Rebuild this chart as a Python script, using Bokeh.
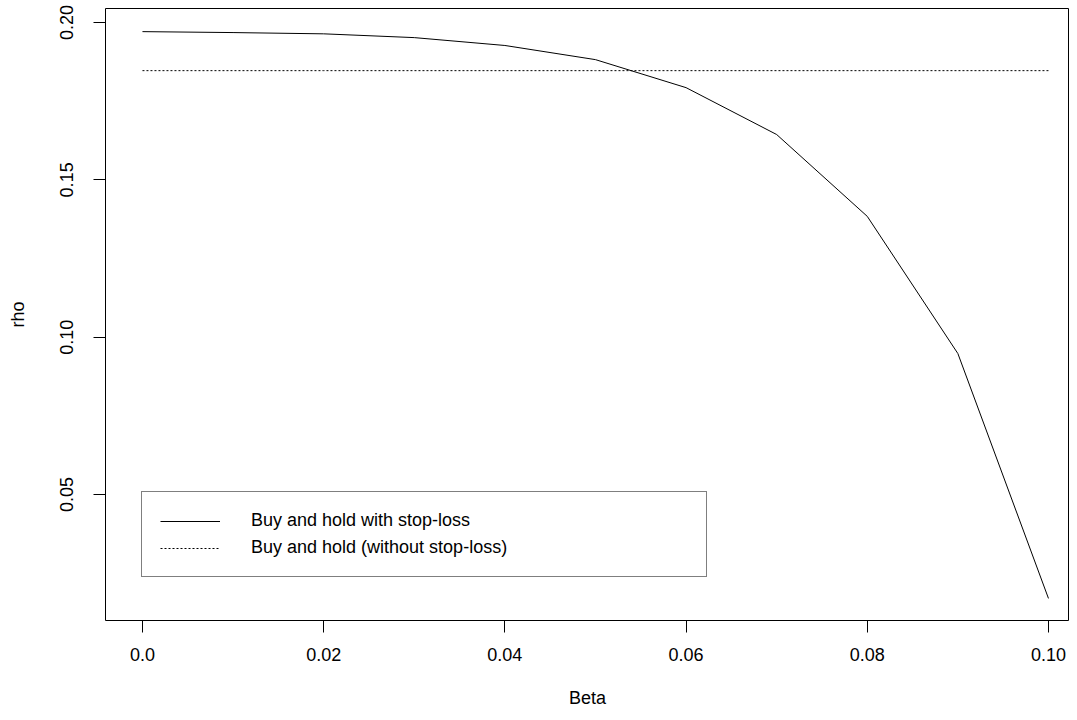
from bokeh.plotting import figure
from bokeh.models import FixedTicker, Legend, LegendItem, ColumnDataSource
from bokeh.embed import file_html
from bokeh.resources import INLINE

# Data
beta = [0.00, 0.01, 0.02, 0.03, 0.04, 0.05, 0.06, 0.07, 0.08, 0.09, 0.10]
rho_stop_loss = [0.1971, 0.1968, 0.1964, 0.1952, 0.1927, 0.1882, 0.1793, 0.1644, 0.1384, 0.0948, 0.0170]
rho_no_stop_loss = [0.1847] * len(beta)

x_ticks = [0.0, 0.02, 0.04, 0.06, 0.08, 0.10]
x_tick_labels = ["0.0", "0.02", "0.04", "0.06", "0.08", "0.10"]
y_ticks = [0.05, 0.10, 0.15, 0.20]
y_tick_labels = ["0.05", "0.10", "0.15", "0.20"]

label_stop = "Buy and hold with stop-loss"
label_nostop = "Buy and hold (without stop-loss)"

FONT = "Liberation Sans"
FS = "18px"

p = figure(width=1069, height=712, output_backend="svg", toolbar_location=None,
           x_range=(-0.00408, 0.10232), y_range=(0.00998, 0.20445),
           min_border_left=105, min_border_right=0, min_border_top=8, min_border_bottom=92)

p.background_fill_color = "white"
p.border_fill_color = "white"
p.outline_line_color = "black"
p.outline_line_width = 1
p.xgrid.visible = False
p.ygrid.visible = False

src = ColumnDataSource(dict(beta=beta, s=rho_stop_loss, n=rho_no_stop_loss))
r1 = p.line("beta", "s", source=src, line_color="black", line_width=1)
r2 = p.line("beta", "n", source=src, line_color="black", line_width=1, line_dash="2 2")

for ax in (p.xaxis[0], p.yaxis[0]):
    ax.axis_line_color = None
    ax.major_tick_line_color = "black"
    ax.major_tick_in = 0
    ax.major_tick_out = 12
    ax.minor_tick_line_color = None
    ax.major_label_text_font = FONT
    ax.major_label_text_font_size = FS
    ax.major_label_text_color = "black"
    ax.axis_label_text_font = FONT
    ax.axis_label_text_font_size = FS
    ax.axis_label_text_font_style = "normal"
    ax.axis_label_text_color = "black"

p.xaxis.ticker = FixedTicker(ticks=x_ticks)
p.xaxis.major_label_overrides = dict(zip(x_ticks, x_tick_labels))
p.yaxis.ticker = FixedTicker(ticks=y_ticks)
p.yaxis.major_label_overrides = dict(zip(y_ticks, y_tick_labels))
p.yaxis.major_label_orientation = "vertical"
p.xaxis.axis_label = "Beta"
p.yaxis.axis_label = "rho"
p.xaxis.major_label_standoff = 15
p.yaxis.major_label_standoff = 20
p.xaxis.axis_label_standoff = 24
p.yaxis.axis_label_standoff = 30

legend = Legend(items=[LegendItem(label=label_stop, renderers=[r1]),
                       LegendItem(label=label_nostop, renderers=[r2])],
                location=(36, 43))
legend.margin = 0
legend.padding = 18
legend.spacing = 6
legend.label_height = 20
legend.glyph_height = 20
legend.glyph_width = 60
legend.label_standoff = 31
legend.label_width = 437
legend.border_line_color = "black"
legend.border_line_width = 1
legend.background_fill_color = "white"
legend.background_fill_alpha = 1
legend.label_text_font = FONT
legend.label_text_font_size = FS
legend.label_text_color = "black"
p.add_layout(legend)

open("out.html", "w").write(file_html(p, INLINE))
